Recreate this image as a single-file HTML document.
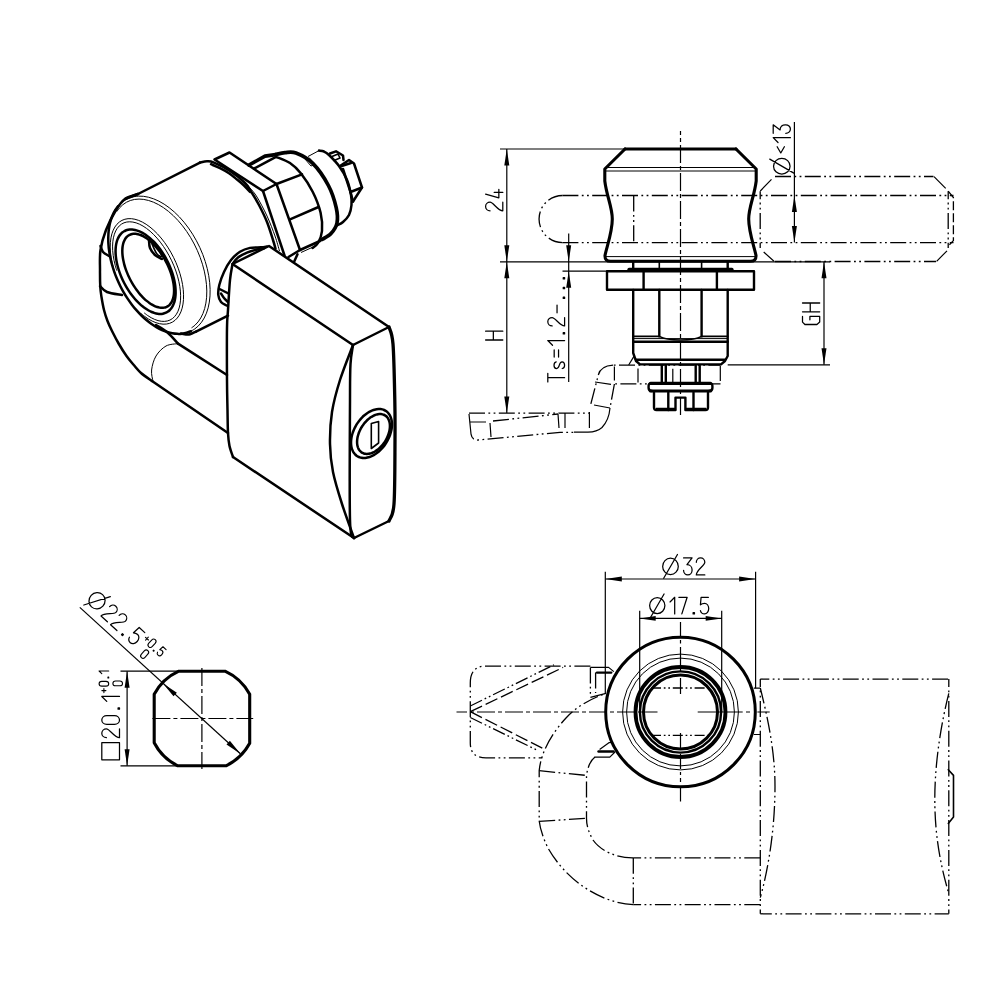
<!DOCTYPE html>
<html><head><meta charset="utf-8"><title>drawing</title>
<style>
html,body{margin:0;padding:0;background:#fff;}
body{width:1000px;height:1000px;overflow:hidden;font-family:"Liberation Sans",sans-serif;}
svg{display:block;}
.k{fill:none;stroke:#000;stroke-width:2.4;stroke-linecap:round;stroke-linejoin:round;}
.k2{fill:none;stroke:#000;stroke-width:3.1;stroke-linecap:round;stroke-linejoin:round;}
.i{fill:none;stroke:#000;stroke-width:2.5;stroke-linecap:round;stroke-linejoin:round;}
.i2{fill:none;stroke:#000;stroke-width:3.3;stroke-linecap:round;stroke-linejoin:round;}
.i3{fill:none;stroke:#000;stroke-width:3.7;stroke-linecap:round;stroke-linejoin:round;}
.m{fill:none;stroke:#000;stroke-width:1.6;stroke-linecap:round;stroke-linejoin:round;}
.n{fill:none;stroke:#000;stroke-width:1.2;stroke-linecap:butt;stroke-linejoin:round;}
.t{fill:none;stroke:#000;stroke-width:1.0;stroke-linecap:butt;stroke-linejoin:round;}
.p{fill:none;stroke:#000;stroke-width:1.3;stroke-dasharray:16 3.4 1.8 3.4 1.8 3.4;}
.ps{fill:none;stroke:#000;stroke-width:1.3;stroke-dasharray:10 2.8 1.7 2.8 1.7 2.8;}
.c{fill:none;stroke:#000;stroke-width:1.2;stroke-dasharray:18 3 4 3;}
.d{fill:none;stroke:#000;stroke-width:1.3;stroke-dasharray:9 3;}
.f{fill:#000;stroke:none;}
.w{fill:#fff;stroke:none;}
</style></head>
<body>
<svg width="1000" height="1000" viewBox="0 0 1000 1000">
<rect x="0" y="0" width="1000" height="1000" fill="#fff"/>
<g id="side">
<path class="c" d="M680.5,131 V416" stroke-dashoffset="14"/>
<path class="k2" d="M625,149 H736"/>
<path class="k2" d="M625,149 L604.8,169 V181 C606.8,197 612.3,207 612.3,219 C612.3,232 607,246 605,255.5 Q604.8,261.3 610.5,261.3 H750.5 Q756.2,261.3 756,255.5 C754,246 748.7,232 748.7,219 C748.7,207 754.2,197 756.2,181 V169 L736,149"/>
<path class="t" d="M606,167.5 H755 M606,171 H755"/>
<path class="t" d="M606,256.6 H755"/>
<path class="k" d="M633.2,262 V269 M727.7,262 V269"/>
<path class="m" d="M659.3,262 V269 M701.6,262 V269"/>
<path class="k2" d="M629,269.2 H732"/>
<path class="k" d="M607,271.3 H754 V289.7 H607 Z M643.6,271.3 V289.7 M716.9,271.3 V289.7"/>
<path class="k" d="M633.2,290 V353 L636,361 L640,364.4 H721 L725,361 L727.7,356 V290"/>
<path class="k" d="M659.3,290 V336.4 M701.6,290 V336.4"/>
<path class="m" d="M633.2,336.4 H659.3 C668,341.3 693,341.3 701.6,336.4 H727.7"/>
<path class="t" d="M633.2,338.6 H727.7"/>
<path class="k" d="M633.2,341.8 H727.7"/>
<path class="k" d="M636,359.8 H725"/>
<path class="n" d="M628.7,365 L634.5,355.4"/>
<path class="k" d="M661.8,365.5 V382 M665.8,365.5 V382 M695.7,365.5 V382 M699.7,365.5 V382"/>
<path class="n" d="M672.8,368.7 V382"/>
<path class="k2" d="M650.5,383.4 H710.5 M650.5,391.0 H710.5"/>
<path class="k" d="M650.5,383.4 Q648.6,383.4 648.6,386 V388 Q648.6,391 652,391 M710.5,383.4 Q712.4,383.4 712.4,386 V388 Q712.4,391 709,391"/>
<path class="k" d="M654,392.5 V407.5 Q654,410 656.5,410 H675.5 V397.6 H685.4 V410 H705.5 Q708,410 708,407.5 V392.5"/>
<path class="k" d="M668.3,392.5 V410 M693.5,392.5 V410"/>
<path class="n" d="M656,408.3 H675 M686,408.3 H706"/>
<path class="n" d="M500,149 H625"/>
<path class="n" d="M500,261.8 H830"/>
<path class="n" d="M562.5,271.2 H607"/>
<path class="n" d="M727.7,364.8 H830"/>
<path class="n" d="M506.8,149 V413"/>
<path class="f" d="M506.80,149.00 L509.30,165.50 L504.30,165.50 Z"/>
<path class="f" d="M506.80,261.80 L504.30,245.30 L509.30,245.30 Z"/>
<path class="f" d="M506.80,261.80 L509.30,278.30 L504.30,278.30 Z"/>
<path class="f" d="M506.80,413.00 L504.30,396.50 L509.30,396.50 Z"/>
<path class="n" d="M568.7,233.5 V382"/>
<path class="f" d="M568.70,261.80 L566.20,245.30 L571.20,245.30 Z"/>
<path class="f" d="M568.70,271.20 L571.20,287.70 L566.20,287.70 Z"/>
<path class="n" d="M794.4,122 V242.5"/>
<path class="f" d="M794.40,195.50 L796.90,212.00 L791.90,212.00 Z"/>
<path class="f" d="M794.40,242.50 L791.90,226.00 L796.90,226.00 Z"/>
<path class="n" d="M824,261.8 V364.8"/>
<path class="f" d="M824.00,261.80 L826.50,278.30 L821.50,278.30 Z"/>
<path class="f" d="M824.00,364.80 L821.50,348.30 L826.50,348.30 Z"/>
<path class="p" d="M953.5,195.5 H562.6" stroke-dashoffset="12.3"/>
<path class="p" d="M953.5,242.6 H562.6" stroke-dashoffset="12.3"/>
<path class="p" d="M562.6,195.5 A23.55,23.55 0 0 0 562.6,242.6" stroke-dashoffset="0.8"/>
<path class="p" d="M633.7,195.5 V242.6"/>
<path class="p" d="M775,176.5 H933.5"/>
<path class="p" d="M775,261.5 H936"/>
<path class="p" d="M760.2,191.2 V248" stroke-dashoffset="8"/>
<path class="p" d="M948.2,191.2 V248" stroke-dashoffset="8"/>
<path class="n" d="M760.3,191 L771.5,179.3 M934,176.7 L945.7,188.4 M763.7,252 L774,261.3 M936.6,261.3 L947,250.8"/>
<path class="d" d="M948.2,191.2 L953.4,197.5 V240.6 L948.2,246"/>
<path class="n" d="M598.3,375 Q600.5,366 613,365.2"/>
<path class="p" d="M613,365.2 H720.5" stroke-dashoffset="-6"/>
<path class="p" d="M614.4,383.9 H720.5" stroke-dashoffset="-6"/>
<path class="n" d="M614.4,366.5 V380.5 M638,368.5 V382.5 M720.3,366 V381"/>
<path class="p" d="M598.3,375 L590.3,406" stroke-dashoffset="16"/>
<path class="p" d="M614.4,384 L610,408"/>
<path class="n" d="M610,408 Q609,420 602,427.5 Q597,432 588,432.2 H574"/>
<path class="n" d="M595,382 L611,384.3 M594,405 L610,408"/>
<path class="n" d="M589.4,412 V428 M565,413 V428 M558,414 L559,428"/>
<path class="p" d="M469,413.2 H590"/>
<path class="n" d="M469,414 L471,434 M470,422 H486 M490,423 L491,437"/>
<path class="p" d="M493,421 L558,414"/>
<path class="p" d="M471,434 Q472,440.5 478,440 L560,432.3 H574" stroke-dashoffset="10"/>
<g transform="translate(502.8,210.8) rotate(-90) scale(17.2,-17.2)" fill="none" stroke="#000" stroke-width="0.0727" stroke-linecap="round" stroke-linejoin="round"><path transform="translate(0.000,0)" d="M0,0.74 A0.25,0.26 0 0 0 0.5,0.74 C0.5,0.55 0,0.3 0,0 H0.5"/><path transform="translate(0.750,0)" d="M0.22,1 L0,0.23 H0.5 M0.32,0.5 V0"/></g>
<g transform="translate(502.8,340.0) rotate(-90) scale(17.2,-17.2)" fill="none" stroke="#000" stroke-width="0.0727" stroke-linecap="round" stroke-linejoin="round"><path transform="translate(0.000,0)" d="M0,0 V1 M0.51,0 V1 M0,0.55 H0.51"/></g>
<g transform="translate(564.6,382.0) rotate(-90) scale(16.8,-16.8)" fill="none" stroke="#000" stroke-width="0.0744" stroke-linecap="round" stroke-linejoin="round"><path transform="translate(0.000,0)" d="M0,1 H0.52 M0.26,1 V0"/><path transform="translate(0.803,0)" d="M0.40,0.5 C0.38,0.59 0.3,0.63 0.2,0.63 C0.08,0.63 0,0.57 0,0.48 C0,0.25 0.40,0.38 0.40,0.15 C0.40,0.05 0.31,0 0.2,0 C0.1,0 0.02,0.05 0,0.14"/><path transform="translate(1.486,0)" d="M0,0.62 H0.42 M0,0.36 H0.42"/><path transform="translate(2.189,0)" d="M0,0.72 L0.28,1 V0"/><path transform="translate(2.752,0)" d="M0.11,0 V0.08 H0.19 V0 Z"/><path transform="translate(3.335,0)" d="M0,0.74 A0.25,0.26 0 0 0 0.5,0.74 C0.5,0.55 0,0.3 0,0 H0.5"/><path transform="translate(4.118,0)" d="M0,0.45 H0.46"/><path transform="translate(4.861,0)" d="M0.11,0 V0.08 H0.19 V0 Z"/><path transform="translate(5.444,0)" d="M0.11,0 V0.08 H0.19 V0 Z"/><path transform="translate(6.027,0)" d="M0.11,0 V0.08 H0.19 V0 Z"/></g>
<g transform="translate(790.4,175.5) rotate(-90) scale(17.2,-17.2)" fill="none" stroke="#000" stroke-width="0.0727" stroke-linecap="round" stroke-linejoin="round"><path transform="translate(0.000,0)" d="M0.08,0.5 A0.46,0.48 0 0 0 1,0.5 A0.46,0.48 0 0 0 0.08,0.5 Z M0.14,-0.2 L0.95,1.2"/><path transform="translate(1.310,0)" d="M0.36,0.77 L0,0.56 L0.36,0.35"/><path transform="translate(1.920,0)" d="M0,0.72 L0.28,1 V0"/><path transform="translate(2.450,0)" d="M0,1 H0.5 L0.2,0.6 C0.4,0.6 0.5,0.45 0.5,0.3 V0.27 A0.25,0.27 0 0 0 0,0.27"/></g>
<g transform="translate(819.7,324.5) rotate(-90) scale(17.2,-17.2)" fill="none" stroke="#000" stroke-width="0.0727" stroke-linecap="round" stroke-linejoin="round"><path transform="translate(0.000,0)" d="M0.47,1 H0.14 L0,0.86 V0.16 L0.14,0 H0.47 V0.57 H0.27"/><path transform="translate(0.740,0)" d="M0,0 V1 M0.51,0 V1 M0,0.55 H0.51"/></g>
</g>
<g id="front">
<path class="c" d="M456.5,712.0 H640" stroke-dashoffset="7.5"/>
<path class="n" d="M640,712.0 H657.5 M697.7,712.0 H742.7 M746,712.0 H750 M757.4,712.0 H769.7 "/>
<path class="n" d="M680.5,622 V637 M680.5,640 V643.5 M680.5,647 V666 M680.5,669 V672 M680.5,678 V694 M680.5,733 V750 M680.5,754 V769 M680.5,772 V775 M680.5,778 V782 M680.5,788 V801.5 "/>
<circle cx="680.5" cy="712.0" r="74.8" fill="none" stroke="#000" stroke-width="3.0"/>
<circle class="t" cx="680.5" cy="712.0" r="57.9"/>
<circle class="t" cx="680.5" cy="712.0" r="53.9"/>
<circle cx="680.5" cy="712.0" r="45" fill="none" stroke="#000" stroke-width="3.8"/>
<circle cx="680.5" cy="712.0" r="40.6" fill="none" stroke="#000" stroke-width="2.4"/>
<circle cx="680.5" cy="712.0" r="37" fill="none" stroke="#000" stroke-width="3.0"/>
<path class="ps" d="M651,688 H710 M651,735.3 H710"/>
<path class="n" d="M605.3,571.7 V694 M755.6,571.7 V688.2"/>
<path class="n" d="M605.3,579 H755.6"/>
<path class="f" d="M605.30,579.00 L621.80,576.50 L621.80,581.50 Z"/>
<path class="f" d="M755.60,579.00 L739.10,581.50 L739.10,576.50 Z"/>
<path class="n" d="M639.7,610.7 V712 M721.7,610.7 V712"/>
<path class="n" d="M639.7,618.4 H721.7"/>
<path class="f" d="M639.70,618.40 L655.70,616.10 L655.70,620.70 Z"/>
<path class="f" d="M721.70,618.40 L705.70,620.70 L705.70,616.10 Z"/>
<g transform="translate(661.3,574.9) rotate(0) scale(17.0,-17.0)" fill="none" stroke="#000" stroke-width="0.0735" stroke-linecap="round" stroke-linejoin="round"><path transform="translate(0.000,0)" d="M0.08,0.5 A0.46,0.48 0 0 0 1,0.5 A0.46,0.48 0 0 0 0.08,0.5 Z M0.14,-0.2 L0.95,1.2"/><path transform="translate(1.310,0)" d="M0,1 H0.5 L0.2,0.6 C0.4,0.6 0.5,0.45 0.5,0.3 V0.27 A0.25,0.27 0 0 0 0,0.27"/><path transform="translate(2.060,0)" d="M0,0.74 A0.25,0.26 0 0 0 0.5,0.74 C0.5,0.55 0,0.3 0,0 H0.5"/></g>
<g transform="translate(648.3,613.9) rotate(0) scale(16.6,-16.6)" fill="none" stroke="#000" stroke-width="0.0753" stroke-linecap="round" stroke-linejoin="round"><path transform="translate(0.000,0)" d="M0.08,0.5 A0.46,0.48 0 0 0 1,0.5 A0.46,0.48 0 0 0 0.08,0.5 Z M0.14,-0.2 L0.95,1.2"/><path transform="translate(1.310,0)" d="M0,0.72 L0.28,1 V0"/><path transform="translate(1.840,0)" d="M0,1 H0.5 L0.18,0"/><path transform="translate(2.590,0)" d="M0.11,0 V0.08 H0.19 V0 Z"/><path transform="translate(3.140,0)" d="M0.48,1 H0.04 L0,0.55 C0.08,0.62 0.17,0.64 0.25,0.64 A0.25,0.32 0 0 0 0.25,0 C0.12,0 0.03,0.08 0,0.2"/></g>
<path class="n" d="M753.8,688.2 H760.3 M753.8,734.5 H760.3"/>
<path class="p" d="M760.3,679.1 H948.8" stroke-dashoffset="7"/>
<path class="p" d="M760.3,913.8 H948.8" stroke-dashoffset="4.5"/>
<path class="p" d="M760.3,679.1 V913.8" stroke-dashoffset="8"/>
<path class="p" d="M948.8,679.1 V913.8" stroke-dashoffset="8"/>
<path class="p" d="M760.3,688 C767,715 775,750 775,786 C775,830 768,870 760.3,897.6"/>
<path class="p" d="M948.8,693.4 C942,720 934.8,760 934.8,799 C934.8,840 942,870 948.8,893.7"/>
<path class="m" d="M948.3,769.7 L953.5,775.4 V817 L948.3,823.5"/>
<path class="p" d="M760.3,857.8 H633.3 M760.3,904.6 H633.3"/>
<path class="p" d="M633.3,857.8 V904.6"/>
<path class="p" d="M633.3,904.6 C600,903 566,880 548,848 C543,838 540,828 539.2,821 V770.5 C541,752 552,733 566,718 C576,707 590,699 606,693.4"/>
<path class="p" d="M633.3,857.8 C615,858 600,850 593,840 C589,833 586.5,826 586.5,818.3 V775.4 C588,766 590.5,760.5 595,757"/>
<path class="p" d="M539.2,770.7 L586.5,775.4 M539.2,821.4 L586.5,818.3"/>
<path class="p" d="M590.4,666.1 H484 Q470.3,667 470.3,683 V743 Q470.3,757.9 486,757.9 H542.3"/>
<path d="M470.3,711.7 L563.1,667.4 M470.3,711.7 L542.3,748.1" fill="none" stroke="#000" stroke-width="1.3" stroke-dasharray="13 4"/>
<path d="M470.3,706 L554,664.8 M470.3,717.5 L538.4,750.8" fill="none" stroke="#000" stroke-width="1.3" stroke-dasharray="13 3 1.7 3 1.7 3"/>
<path class="n" d="M590.4,667.4 H608.6 L613.8,671.6"/>
<path class="k" d="M597,672.6 H611.2"/>
<path class="p" d="M590.4,667.4 V697 M595.6,672.6 V693"/>
<path class="n" d="M590.4,697.3 L606,693.4"/>
<path class="k" d="M598.5,751.5 H613.5"/>
<path class="n" d="M599.6,749.5 L608.9,742.7 L612,742.5"/>
<path class="n" d="M594.5,757.1 H609.8 L615,752"/>
</g>
<g id="cut">
<path class="k2" d="M178.8,671.2 H225 A52.9,52.9 0 0 1 249.7,694.3 V743.3 A52.9,52.9 0 0 1 226,765.8 H177.8 A52.9,52.9 0 0 1 154.2,742.7 V694.3 A52.9,52.9 0 0 1 178.8,671.2 Z"/>
<path class="c" d="M152.4,718.5 H253.2"/>
<path class="c" d="M201.9,667.9 V769.1"/>
<path class="n" d="M120.5,671.2 H178.8 M120.5,765.8 H177.8"/>
<path class="n" d="M127.1,671.2 V765.8"/>
<path class="f" d="M127.10,671.20 L129.60,687.70 L124.60,687.70 Z"/>
<path class="f" d="M127.10,765.80 L124.60,749.30 L129.60,749.30 Z"/>
<path class="n" d="M79.8,607.4 L240.4,753.7"/>
<path class="f" d="M240.40,753.70 L226.52,744.44 L229.89,740.74 Z"/>
<path class="f" d="M163.00,683.40 L176.88,692.66 L173.51,696.36 Z"/>
<g transform="translate(119.5,759.8) rotate(-90) scale(17.7,-17.7)" fill="none" stroke="#000" stroke-width="0.0706" stroke-linecap="round" stroke-linejoin="round"><path transform="translate(0.000,0)" d="M0,0 H0.97 V1 H0 Z"/><path transform="translate(1.250,0)" d="M0,0.74 A0.25,0.26 0 0 0 0.5,0.74 C0.5,0.55 0,0.3 0,0 H0.5"/><path transform="translate(2.000,0)" d="M0,0.28 V0.72 A0.25,0.28 0 0 0 0.5,0.72 V0.28 A0.25,0.28 0 0 0 0,0.28 Z"/><path transform="translate(2.750,0)" d="M0.11,0 V0.08 H0.19 V0 Z"/><path transform="translate(3.300,0)" d="M0,0.72 L0.28,1 V0"/></g>
<g transform="translate(108.7,692.6) rotate(-90) scale(9.6,-9.6)" fill="none" stroke="#000" stroke-width="0.1146" stroke-linecap="round" stroke-linejoin="round"><path transform="translate(0.000,0)" d="M0,0.5 H0.42 M0.21,0.29 V0.71"/><path transform="translate(0.670,0)" d="M0,0.28 V0.72 A0.25,0.28 0 0 0 0.5,0.72 V0.28 A0.25,0.28 0 0 0 0,0.28 Z"/><path transform="translate(1.420,0)" d="M0.11,0 V0.08 H0.19 V0 Z"/><path transform="translate(1.970,0)" d="M0,0.72 L0.28,1 V0"/></g>
<g transform="translate(122.5,685.8) rotate(-90) scale(9.6,-9.6)" fill="none" stroke="#000" stroke-width="0.1146" stroke-linecap="round" stroke-linejoin="round"><path transform="translate(0.000,0)" d="M0,0.28 V0.72 A0.25,0.28 0 0 0 0.5,0.72 V0.28 A0.25,0.28 0 0 0 0,0.28 Z"/></g>
<g transform="translate(84.38,600.86) rotate(42.33223371955368) scale(17.2,-17.2)" fill="none" stroke="#000" stroke-width="0.0727" stroke-linecap="round" stroke-linejoin="round"><path transform="translate(0.000,0)" d="M0.08,0.5 A0.46,0.48 0 0 0 1,0.5 A0.46,0.48 0 0 0 0.08,0.5 Z M0.14,-0.2 L0.95,1.2"/><path transform="translate(1.310,0)" d="M0,0.74 A0.25,0.26 0 0 0 0.5,0.74 C0.5,0.55 0,0.3 0,0 H0.5"/><path transform="translate(2.060,0)" d="M0,0.74 A0.25,0.26 0 0 0 0.5,0.74 C0.5,0.55 0,0.3 0,0 H0.5"/><path transform="translate(2.810,0)" d="M0.11,0 V0.08 H0.19 V0 Z"/><path transform="translate(3.360,0)" d="M0.48,1 H0.04 L0,0.55 C0.08,0.62 0.17,0.64 0.25,0.64 A0.25,0.32 0 0 0 0.25,0 C0.12,0 0.03,0.08 0,0.2"/></g>
<g transform="translate(142.24,640.85) rotate(42.33223371955368) scale(9.6,-9.6)" fill="none" stroke="#000" stroke-width="0.1146" stroke-linecap="round" stroke-linejoin="round"><path transform="translate(0.000,0)" d="M0,0.5 H0.42 M0.21,0.29 V0.71"/><path transform="translate(0.670,0)" d="M0,0.28 V0.72 A0.25,0.28 0 0 0 0.5,0.72 V0.28 A0.25,0.28 0 0 0 0,0.28 Z"/><path transform="translate(1.420,0)" d="M0.11,0 V0.08 H0.19 V0 Z"/><path transform="translate(1.970,0)" d="M0.48,1 H0.04 L0,0.55 C0.08,0.62 0.17,0.64 0.25,0.64 A0.25,0.32 0 0 0 0.25,0 C0.12,0 0.03,0.08 0,0.2"/></g>
<g transform="translate(139.62,656.05) rotate(42.33223371955368) scale(9.6,-9.6)" fill="none" stroke="#000" stroke-width="0.1146" stroke-linecap="round" stroke-linejoin="round"><path transform="translate(0.000,0)" d="M0,0.28 V0.72 A0.25,0.28 0 0 0 0.5,0.72 V0.28 A0.25,0.28 0 0 0 0,0.28 Z"/></g>
</g>
<g id="iso">
<path class="i" d="M190.92,331.19 C190.21,331.46 188.12,332.39 186.66,332.81 C185.19,333.22 183.66,333.52 182.10,333.70 C180.55,333.88 178.94,333.93 177.31,333.87 C175.68,333.80 174.01,333.62 172.33,333.31 C170.64,333.00 168.93,332.57 167.21,332.03 C165.48,331.48 163.74,330.82 162.00,330.04 C160.26,329.26 158.50,328.36 156.76,327.36 C155.02,326.36 153.28,325.24 151.55,324.02 C149.83,322.81 148.11,321.48 146.42,320.06 C144.73,318.65 143.06,317.12 141.43,315.52 C139.79,313.92 138.18,312.22 136.62,310.45 C135.06,308.67 133.53,306.81 132.05,304.89 C130.58,302.97 129.14,300.96 127.77,298.91 C126.40,296.86 125.07,294.74 123.82,292.57 C122.57,290.41 121.37,288.19 120.24,285.95 C119.12,283.70 118.06,281.41 117.08,279.10 C116.10,276.79 115.19,274.45 114.36,272.10 C113.53,269.75 112.78,267.38 112.12,265.03 C111.45,262.67 110.87,260.30 110.37,257.95 C109.87,255.61 109.46,253.26 109.14,250.95 C108.82,248.65 108.58,246.35 108.44,244.10 C108.29,241.86 108.24,239.64 108.27,237.47 C108.31,235.31 108.43,233.19 108.64,231.14 C108.86,229.08 109.16,227.08 109.55,225.15 C109.94,223.23 110.42,221.37 110.98,219.59 C111.55,217.82 112.20,216.12 112.92,214.51 C113.65,212.91 114.47,211.39 115.35,209.97 C116.24,208.55 117.77,206.66 118.25,206.00"/>
<path class="t" d="M118.25,206.00 C118.80,205.45 120.41,203.66 121.59,202.65 C122.76,201.65 124.02,200.75 125.32,199.97 C126.63,199.19 128.00,198.52 129.42,197.97 C130.84,197.43 132.31,197.00 133.83,196.69 C135.35,196.38 136.92,196.19 138.51,196.13 C140.11,196.07 141.75,196.13 143.41,196.30 C145.08,196.48 146.78,196.79 148.48,197.21 C150.19,197.63 151.93,198.18 153.67,198.83 C155.41,199.49 157.16,200.27 158.91,201.16 C160.66,202.05 162.42,203.06 164.16,204.17 C165.90,205.28 167.64,206.50 169.35,207.82 C171.06,209.14 172.77,210.57 174.43,212.08 C176.10,213.60 177.75,215.21 179.36,216.90 C180.96,218.60 182.54,220.38 184.07,222.24 C185.59,224.09 187.08,226.03 188.51,228.03 C189.94,230.02 191.33,232.09 192.64,234.21 C193.96,236.32 195.23,238.50 196.42,240.72 C197.62,242.93 198.75,245.20 199.80,247.48 C200.86,249.77 201.85,252.10 202.76,254.44 C203.66,256.77 204.50,259.14 205.24,261.50 C205.99,263.86 206.66,266.24 207.24,268.60 C207.82,270.96 208.32,273.33 208.73,275.67 C209.14,278.00 209.46,280.33 209.69,282.62 C209.92,284.90 210.06,287.17 210.12,289.38 C210.17,291.59 210.13,293.77 210.00,295.88 C209.87,298.00 209.65,300.07 209.34,302.06 C209.04,304.05 208.64,305.99 208.16,307.84 C207.67,309.69 207.10,311.48 206.45,313.17 C205.79,314.86 205.05,316.47 204.24,317.98 C203.42,319.50 202.52,320.92 201.55,322.24 C200.57,323.55 199.52,324.77 198.41,325.88 C197.29,326.99 196.10,327.99 194.85,328.88 C193.60,329.76 191.57,330.81 190.92,331.19"/>
<path class="t" d="M116.82,211.55 C117.29,210.93 118.61,208.97 119.61,207.83 C120.61,206.69 121.68,205.65 122.82,204.73 C123.95,203.80 125.15,202.98 126.40,202.28 C127.66,201.58 128.97,200.98 130.33,200.51 C131.69,200.04 133.11,199.68 134.56,199.43 C136.02,199.19 137.52,199.07 139.05,199.07 C140.58,199.07 142.16,199.18 143.75,199.41 C145.34,199.65 146.97,200.00 148.60,200.47 C150.24,200.94 151.90,201.52 153.56,202.22 C155.22,202.92 156.90,203.73 158.57,204.65 C160.24,205.57 161.92,206.60 163.58,207.73 C165.24,208.86 166.90,210.10 168.53,211.43 C170.16,212.76 171.79,214.20 173.37,215.71 C174.96,217.23 176.53,218.84 178.06,220.53 C179.58,222.21 181.08,223.99 182.53,225.82 C183.98,227.66 185.39,229.57 186.74,231.54 C188.09,233.51 189.40,235.55 190.65,237.63 C191.89,239.70 193.09,241.84 194.21,244.01 C195.34,246.17 196.40,248.39 197.39,250.62 C198.38,252.85 199.30,255.12 200.15,257.39 C200.99,259.66 201.77,261.96 202.46,264.25 C203.15,266.54 203.77,268.84 204.30,271.12 C204.83,273.40 205.28,275.68 205.64,277.92 C206.01,280.17 206.29,282.41 206.48,284.60 C206.68,286.79 206.78,288.95 206.80,291.06 C206.82,293.17 206.76,295.25 206.61,297.26 C206.45,299.26 206.21,301.22 205.89,303.10 C205.57,304.99 205.16,306.81 204.67,308.55 C204.17,310.29 203.60,311.96 202.94,313.53 C202.29,315.11 201.55,316.60 200.74,318.00 C199.93,319.39 199.04,320.70 198.09,321.90 C197.13,323.09 196.10,324.20 195.01,325.19 C193.92,326.18 192.11,327.40 191.53,327.84"/>
<path class="t" d="M115.25,273.58 C114.96,272.67 114.02,269.92 113.50,268.09 C112.97,266.27 112.51,264.44 112.10,262.64 C111.70,260.84 111.36,259.04 111.09,257.28 C110.81,255.52 110.60,253.77 110.46,252.07 C110.31,250.37 110.23,248.70 110.22,247.07 C110.21,245.45 110.26,243.87 110.38,242.34 C110.50,240.81 110.69,239.33 110.94,237.92 C111.19,236.51 111.50,235.15 111.88,233.86 C112.26,232.58 112.70,231.35 113.21,230.21 C113.71,229.07 114.27,227.99 114.89,227.00 C115.51,226.01 116.20,225.10 116.93,224.28 C117.66,223.45 118.45,222.71 119.29,222.06 C120.12,221.41 121.01,220.85 121.94,220.38 C122.87,219.91 123.85,219.53 124.87,219.25 C125.89,218.96 126.95,218.77 128.04,218.68 C129.12,218.59 130.25,218.59 131.41,218.68 C132.56,218.78 133.74,218.97 134.94,219.26 C136.14,219.54 137.37,219.92 138.61,220.39 C139.85,220.87 141.10,221.43 142.36,222.08 C143.62,222.74 144.90,223.48 146.17,224.31 C147.44,225.13 148.72,226.05 149.98,227.04 C151.25,228.03 152.51,229.11 153.76,230.25 C155.01,231.40 156.25,232.62 157.47,233.91 C158.68,235.19 159.89,236.56 161.06,237.97 C162.23,239.38 163.38,240.87 164.50,242.39 C165.61,243.92 166.70,245.51 167.74,247.13 C168.79,248.75 169.80,250.43 170.77,252.13 C171.73,253.83 172.66,255.58 173.53,257.34 C174.40,259.10 175.23,260.90 176.01,262.70 C176.78,264.50 177.50,266.33 178.17,268.16 C178.83,269.98 179.44,271.82 179.99,273.65 C180.54,275.47 181.03,277.30 181.46,279.11 C181.88,280.92 182.25,282.72 182.55,284.49 C182.85,286.26 183.08,288.02 183.25,289.73 C183.42,291.45 183.53,293.14 183.56,294.78 C183.60,296.42 183.57,298.02 183.48,299.57 C183.39,301.11 183.23,302.62 183.00,304.05 C182.78,305.49 182.48,306.87 182.13,308.18 C181.78,309.49 181.36,310.75 180.88,311.92 C180.40,313.09 179.86,314.19 179.26,315.21 C178.66,316.23 178.00,317.18 177.29,318.03 C176.58,318.89 175.81,319.67 174.99,320.35 C174.18,321.04 173.31,321.63 172.39,322.14 C171.48,322.64 170.52,323.06 169.52,323.38 C168.52,323.70 167.47,323.92 166.39,324.05 C165.32,324.19 164.20,324.22 163.06,324.16 C161.92,324.10 160.75,323.95 159.55,323.70 C158.36,323.45 157.14,323.10 155.91,322.67 C154.68,322.23 153.42,321.70 152.17,321.09 C150.91,320.47 149.64,319.76 148.37,318.96 C147.10,318.17 145.82,317.29 144.55,316.33 C143.29,315.37 141.40,313.73 140.77,313.21"/>
<path class="t" d="M116.79,270.64 C116.54,269.79 115.71,267.20 115.25,265.49 C114.80,263.79 114.39,262.08 114.05,260.41 C113.71,258.74 113.42,257.07 113.20,255.45 C112.97,253.82 112.81,252.21 112.70,250.66 C112.60,249.10 112.55,247.57 112.57,246.09 C112.59,244.61 112.67,243.17 112.80,241.80 C112.94,240.42 113.14,239.09 113.40,237.83 C113.66,236.56 113.98,235.35 114.36,234.22 C114.73,233.08 115.17,232.01 115.66,231.01 C116.15,230.01 116.69,229.09 117.29,228.24 C117.89,227.39 118.54,226.62 119.24,225.93 C119.94,225.25 120.69,224.64 121.48,224.12 C122.27,223.60 123.11,223.16 123.99,222.81 C124.87,222.47 125.79,222.21 126.75,222.03 C127.70,221.86 128.69,221.78 129.71,221.79 C130.73,221.79 131.79,221.89 132.86,222.07 C133.94,222.26 135.04,222.53 136.16,222.89 C137.28,223.25 138.42,223.70 139.57,224.23 C140.72,224.77 141.88,225.39 143.05,226.09 C144.22,226.78 145.40,227.57 146.57,228.43 C147.75,229.28 148.93,230.22 150.10,231.23 C151.27,232.24 152.43,233.32 153.58,234.47 C154.73,235.61 155.88,236.83 156.99,238.10 C158.11,239.38 159.22,240.72 160.29,242.10 C161.37,243.49 162.42,244.93 163.44,246.41 C164.46,247.90 165.46,249.43 166.41,251.00 C167.37,252.56 168.29,254.17 169.17,255.80 C170.05,257.43 170.89,259.10 171.69,260.78 C172.48,262.46 173.23,264.16 173.93,265.87 C174.63,267.58 175.29,269.30 175.88,271.02 C176.48,272.74 177.03,274.47 177.52,276.18 C178.01,277.89 178.45,279.60 178.83,281.29 C179.21,282.98 179.53,284.65 179.79,286.30 C180.05,287.94 180.25,289.56 180.39,291.14 C180.53,292.72 180.61,294.28 180.63,295.78 C180.65,297.28 180.61,298.75 180.50,300.16 C180.40,301.57 180.24,302.93 180.01,304.23 C179.79,305.53 179.51,306.78 179.16,307.95 C178.82,309.13 178.42,310.24 177.97,311.28 C177.51,312.32 176.99,313.29 176.43,314.18 C175.86,315.08 175.24,315.90 174.57,316.63 C173.90,317.37 173.18,318.02 172.42,318.59 C171.65,319.16 170.84,319.65 169.98,320.05 C169.13,320.45 168.23,320.77 167.30,320.99 C166.36,321.21 165.39,321.35 164.39,321.40 C163.39,321.44 162.35,321.40 161.29,321.27 C160.23,321.14 159.14,320.91 158.03,320.61 C156.93,320.30 155.80,319.90 154.65,319.42 C153.51,318.94 152.35,318.37 151.19,317.72 C150.02,317.07 148.85,316.33 147.67,315.52 C146.50,314.71 144.73,313.29 144.15,312.85"/>
<path class="i" d="M124.66,230.96 C125.05,230.81 126.18,230.28 126.99,230.04 C127.80,229.81 128.64,229.65 129.51,229.56 C130.38,229.48 131.28,229.47 132.20,229.53 C133.12,229.59 134.07,229.73 135.04,229.94 C136.00,230.16 136.99,230.44 137.98,230.80 C138.98,231.16 139.99,231.59 141.01,232.09 C142.03,232.59 143.06,233.16 144.08,233.80 C145.11,234.44 146.15,235.14 147.18,235.91 C148.20,236.68 149.23,237.51 150.25,238.40 C151.27,239.29 152.28,240.24 153.28,241.25 C154.27,242.25 155.26,243.31 156.22,244.41 C157.18,245.52 158.13,246.67 159.05,247.87 C159.97,249.06 160.87,250.31 161.74,251.58 C162.61,252.85 163.45,254.16 164.26,255.50 C165.06,256.84 165.84,258.21 166.58,259.59 C167.31,260.98 168.02,262.39 168.68,263.81 C169.33,265.24 169.95,266.68 170.53,268.12 C171.10,269.56 171.63,271.02 172.12,272.46 C172.60,273.91 173.04,275.36 173.42,276.80 C173.81,278.24 174.15,279.67 174.44,281.08 C174.72,282.49 174.96,283.89 175.14,285.26 C175.33,286.63 175.46,287.99 175.54,289.30 C175.62,290.62 175.64,291.91 175.62,293.15 C175.59,294.40 175.51,295.61 175.37,296.78 C175.24,297.94 175.05,299.07 174.82,300.13 C174.58,301.20 174.29,302.23 173.95,303.19 C173.61,304.15 173.22,305.07 172.78,305.91 C172.34,306.76 171.86,307.55 171.33,308.28 C170.80,309.00 170.22,309.66 169.60,310.25 C168.98,310.84 168.32,311.36 167.62,311.81 C166.92,312.26 166.17,312.64 165.40,312.95 C164.63,313.26 163.81,313.49 162.97,313.65 C162.13,313.81 161.26,313.90 160.36,313.91 C159.47,313.92 158.54,313.86 157.60,313.72 C156.65,313.58 155.68,313.37 154.70,313.08 C153.72,312.80 152.72,312.44 151.71,312.01 C150.71,311.58 149.68,311.08 148.66,310.51 C147.63,309.94 146.60,309.30 145.57,308.59 C144.54,307.89 143.51,307.12 142.48,306.29 C141.46,305.46 140.44,304.56 139.43,303.62 C138.42,302.67 137.42,301.66 136.44,300.61 C135.46,299.55 134.49,298.44 133.55,297.29 C132.61,296.14 131.68,294.94 130.78,293.71 C129.89,292.47 129.02,291.19 128.18,289.89 C127.34,288.58 126.53,287.24 125.76,285.87 C124.98,284.51 124.24,283.11 123.54,281.71 C122.85,280.30 122.18,278.87 121.57,277.44 C120.95,276.01 120.37,274.56 119.84,273.11 C119.31,271.66 118.83,270.21 118.39,268.76 C117.96,267.32 117.57,265.88 117.23,264.45 C116.89,263.03 116.61,261.61 116.37,260.21 C116.13,258.82 115.95,257.44 115.82,256.10 C115.69,254.75 115.61,253.43 115.58,252.15 C115.56,250.87 115.59,249.61 115.67,248.40 C115.75,247.20 115.88,246.03 116.07,244.91 C116.25,243.79 116.49,242.71 116.78,241.70 C117.07,240.68 117.41,239.71 117.80,238.80 C118.19,237.90 118.63,237.04 119.11,236.26 C119.60,235.47 120.13,234.75 120.70,234.09 C121.28,233.43 121.90,232.84 122.56,232.32 C123.22,231.80 124.31,231.19 124.66,230.96"/>
<path class="i" d="M129.31,234.97 C129.63,234.85 130.56,234.40 131.23,234.21 C131.90,234.01 132.60,233.89 133.33,233.82 C134.06,233.76 134.81,233.77 135.59,233.83 C136.36,233.90 137.16,234.04 137.98,234.24 C138.79,234.44 139.63,234.70 140.48,235.03 C141.32,235.35 142.19,235.75 143.06,236.20 C143.93,236.65 144.81,237.16 145.69,237.73 C146.57,238.30 147.47,238.94 148.35,239.62 C149.24,240.30 150.13,241.05 151.01,241.84 C151.89,242.63 152.78,243.47 153.64,244.36 C154.51,245.25 155.37,246.19 156.22,247.16 C157.06,248.14 157.89,249.17 158.70,250.22 C159.51,251.27 160.31,252.37 161.08,253.49 C161.85,254.61 162.60,255.77 163.32,256.95 C164.04,258.13 164.74,259.33 165.40,260.55 C166.06,261.77 166.70,263.02 167.30,264.26 C167.90,265.51 168.46,266.78 168.99,268.05 C169.52,269.31 170.01,270.59 170.47,271.86 C170.92,273.12 171.33,274.40 171.70,275.66 C172.08,276.91 172.41,278.17 172.69,279.40 C172.98,280.64 173.22,281.86 173.42,283.06 C173.62,284.26 173.78,285.44 173.88,286.59 C173.99,287.73 174.06,288.86 174.07,289.95 C174.09,291.03 174.06,292.09 173.99,293.10 C173.92,294.12 173.80,295.09 173.63,296.02 C173.47,296.95 173.26,297.84 173.01,298.68 C172.75,299.51 172.45,300.30 172.12,301.03 C171.78,301.76 171.39,302.45 170.97,303.07 C170.55,303.69 170.09,304.26 169.59,304.76 C169.09,305.27 168.55,305.72 167.97,306.10 C167.40,306.48 166.79,306.80 166.15,307.06 C165.51,307.31 164.84,307.51 164.14,307.63 C163.44,307.76 162.71,307.82 161.96,307.82 C161.21,307.82 160.43,307.75 159.63,307.61 C158.84,307.48 158.02,307.28 157.19,307.02 C156.35,306.75 155.50,306.42 154.64,306.03 C153.78,305.65 152.91,305.19 152.03,304.68 C151.15,304.17 150.27,303.59 149.38,302.97 C148.49,302.34 147.60,301.65 146.71,300.91 C145.83,300.17 144.94,299.38 144.07,298.54 C143.19,297.70 142.32,296.80 141.46,295.87 C140.60,294.94 139.76,293.95 138.93,292.94 C138.10,291.92 137.28,290.86 136.49,289.77 C135.70,288.68 134.93,287.55 134.18,286.40 C133.44,285.25 132.71,284.06 132.02,282.86 C131.33,281.67 130.66,280.44 130.03,279.20 C129.40,277.97 128.79,276.71 128.23,275.45 C127.67,274.19 127.13,272.92 126.64,271.65 C126.15,270.38 125.70,269.10 125.28,267.84 C124.87,266.57 124.50,265.31 124.17,264.06 C123.84,262.81 123.55,261.57 123.31,260.35 C123.07,259.14 122.87,257.93 122.71,256.76 C122.56,255.58 122.45,254.43 122.39,253.31 C122.32,252.19 122.30,251.10 122.33,250.05 C122.36,249.00 122.44,247.98 122.55,247.01 C122.67,246.03 122.84,245.10 123.05,244.22 C123.26,243.33 123.51,242.49 123.81,241.71 C124.10,240.92 124.44,240.19 124.83,239.51 C125.21,238.83 125.63,238.20 126.09,237.64 C126.55,237.08 127.06,236.57 127.59,236.12 C128.13,235.68 129.02,235.17 129.31,234.97"/>
<path class="i" d="M149.00,240.00 C149.17,241.33 149.00,245.50 150.00,248.00 C151.00,250.50 153.00,253.17 155.00,255.00 C157.00,256.83 160.83,258.33 162.00,259.00"/>
<path class="m" d="M152.00,244.00 C152.83,244.50 155.33,245.00 157.00,247.00 C158.67,249.00 162.00,254.83 162.00,256.00 C162.00,257.17 158.67,256.00 157.00,254.00 C155.33,252.00 152.83,245.67 152.00,244.00"/>
<path class="i" d="M125.00,199.00 C127.17,198.17 135.83,194.83 138.00,194.00"/>
<path class="i" d="M138.00,194.00 L200.00,162.60"/>
<path class="i" d="M200.00,162.60 C201.17,162.38 204.67,161.30 207.00,161.30 C209.33,161.30 210.17,160.98 214.00,162.60 C217.83,164.22 224.83,167.60 230.00,171.00 C235.17,174.40 241.33,179.33 245.00,183.00 C248.67,186.67 249.67,189.33 252.00,193.00 C254.33,196.67 256.50,200.17 259.00,205.00 C261.50,209.83 264.67,216.17 267.00,222.00 C269.33,227.83 271.58,235.58 273.00,240.00 C274.42,244.42 275.08,247.08 275.50,248.50"/>
<path class="i" d="M211.00,164.20 C212.50,164.87 217.00,166.68 220.00,168.20 C223.00,169.72 226.17,171.42 229.00,173.30 C231.83,175.18 234.50,177.47 237.00,179.50 C239.50,181.53 241.83,183.42 244.00,185.50 C246.17,187.58 249.00,190.92 250.00,192.00"/>
<path class="t" d="M243.00,180.50 C244.17,181.75 247.67,185.25 250.00,188.00 C252.33,190.75 254.17,192.33 257.00,197.00 C259.83,201.67 264.00,209.50 267.00,216.00 C270.00,222.50 272.92,230.17 275.00,236.00 C277.08,241.83 278.75,248.50 279.50,251.00"/>
<path class="i" d="M138.00,194.00 C135.83,194.83 128.67,196.33 125.00,199.00 C121.33,201.67 119.17,204.83 116.00,210.00 C112.83,215.17 108.58,223.33 106.00,230.00 C103.42,236.67 101.50,243.33 100.50,250.00 C99.50,256.67 100.03,263.83 100.00,270.00 C99.97,276.17 100.05,282.50 100.30,287.00 C100.55,291.50 100.88,293.17 101.50,297.00 C102.12,300.83 103.00,306.00 104.00,310.00 C105.00,314.00 106.17,317.50 107.50,321.00 C108.83,324.50 110.12,327.21 112.00,331.00 C113.88,334.79 116.33,339.58 118.75,343.75 C121.17,347.92 124.00,352.46 126.50,356.00 C129.00,359.54 131.33,362.17 133.75,365.00 C136.17,367.83 137.96,370.33 141.00,373.00 C144.04,375.67 150.17,379.67 152.00,381.00"/>
<path class="i" d="M152.00,381.00 L228.00,433.00"/>
<path class="i" d="M100.50,246.00 C100.92,247.00 101.58,250.33 103.00,252.00 C104.42,253.67 108.00,255.33 109.00,256.00"/>
<path class="i" d="M100.00,286.00 C101.17,287.00 103.33,290.50 107.00,292.00 C110.67,293.50 119.50,294.50 122.00,295.00"/>
<path class="i" d="M156.00,325.00 C157.92,326.25 163.83,329.40 167.50,332.50 C171.17,335.60 176.25,341.75 178.00,343.60"/>
<path class="i" d="M178.00,343.60 L227.00,375.00"/>
<path class="t" d="M178.00,343.60 C176.00,344.00 169.67,343.93 166.00,346.00 C162.33,348.07 158.40,352.00 156.00,356.00 C153.60,360.00 152.10,365.73 151.60,370.00 C151.10,374.27 152.77,379.67 153.00,381.60"/>
<path class="i" d="M181.00,333.60 C181.83,333.73 184.50,334.30 186.00,334.40 C187.50,334.50 188.33,334.67 190.00,334.20 C191.67,333.73 195.00,332.03 196.00,331.60"/>
<path class="i" d="M196.00,331.60 L228.00,315.60"/>
<path class="i" d="M214.50,159.50 L229.50,152.50 L276.50,184.00 L263.00,191.00 Z"/>
<path class="i" d="M263.00,191.00 L284.50,255.50"/>
<path class="i" d="M276.50,184.00 L300.00,250.00"/>
<path class="i" d="M300.00,250.00 L288.50,257.00"/>
<path class="i" d="M276.50,184.00 L302.00,174.30"/>
<path class="i" d="M290.00,219.30 L318.50,207.00"/>
<path class="i" d="M300.00,250.00 L320.00,241.00"/>
<path class="t" d="M301.00,252.50 L314.00,246.60"/>
<path class="i3" d="M249.00,165.00 L265.00,156.20 L275.50,154.60"/>
<path class="i" d="M254.00,168.60 L276.00,156.80"/>
<path class="i" d="M276.00,156.80 C278.33,157.83 285.83,160.22 290.00,163.00 C294.17,165.78 297.20,168.67 301.00,173.50 C304.80,178.33 309.53,185.45 312.80,192.00 C316.07,198.55 319.07,206.30 320.60,212.80 C322.13,219.30 322.43,225.97 322.00,231.00 C321.57,236.03 319.58,240.17 318.00,243.00 C316.42,245.83 313.42,247.17 312.50,248.00"/>
<path class="i3" d="M275.50,154.60 C277.08,154.27 281.58,152.87 285.00,152.60 C288.42,152.33 291.37,151.20 296.00,153.00 C300.63,154.80 307.40,157.98 312.80,163.40 C318.20,168.82 324.50,178.13 328.40,185.50 C332.30,192.87 334.77,201.35 336.20,207.60 C337.63,213.85 337.87,218.67 337.00,223.00 C336.13,227.33 333.50,230.85 331.00,233.60 C328.50,236.35 323.50,238.52 322.00,239.50"/>
<path class="t" d="M308.00,156.50 L319.00,150.60"/>
<path class="i" d="M319.00,150.60 C319.83,150.75 322.33,150.77 324.00,151.50 C325.67,152.23 326.50,152.58 329.00,155.00 C331.50,157.42 336.00,161.83 339.00,166.00 C342.00,170.17 345.00,175.17 347.00,180.00 C349.00,184.83 350.25,190.83 351.00,195.00 C351.75,199.17 351.83,201.67 351.50,205.00 C351.17,208.33 350.42,212.17 349.00,215.00 C347.58,217.83 344.92,220.30 343.00,222.00 C341.08,223.70 338.42,224.67 337.50,225.20"/>
<path class="t" d="M305.00,159.00 L311.00,166.00 L315.00,164.30 L309.00,157.50"/>
<path class="i" d="M330.00,153.50 L336.00,151.30 L343.00,155.50 L343.50,160.00"/>
<path class="m" d="M332.00,156.50 L338.00,154.00 L340.00,158.00 L334.00,160.50"/>
<path class="i" d="M340.00,166.00 L349.00,160.00 L354.00,163.50 L362.00,187.50 L353.00,201.50"/>
<path class="i" d="M340.00,166.50 L351.00,163.00"/>
<path class="i" d="M343.00,169.00 L350.50,192.00 L362.00,187.50"/>
<path class="i" d="M350.50,192.00 L353.00,201.50"/>
<path class="i" d="M267.00,246.50 C266.00,246.63 263.83,247.07 261.00,247.30 C258.17,247.53 253.50,247.15 250.00,247.90 C246.50,248.65 243.17,249.78 240.00,251.80 C236.83,253.82 233.67,256.63 231.00,260.00 C228.33,263.37 225.95,267.83 224.00,272.00 C222.05,276.17 220.25,281.17 219.30,285.00 C218.35,288.83 218.02,292.17 218.30,295.00 C218.58,297.83 219.63,300.25 221.00,302.00 C222.37,303.75 225.58,304.92 226.50,305.50"/>
<path class="i" d="M264.00,248.30 C262.83,248.50 259.83,248.78 257.00,249.50 C254.17,250.22 250.17,251.27 247.00,252.60 C243.83,253.93 240.33,255.68 238.00,257.50 C235.67,259.32 233.83,262.50 233.00,263.50"/>
<path class="i" d="M219.50,289.00 L228.50,293.50"/>
<path class="i" d="M221.00,293.50 C221.50,294.25 222.83,296.58 224.00,298.00 C225.17,299.42 227.33,301.33 228.00,302.00"/>
<path class="i" d="M297.50,254.30 L294.00,262.00"/>
<path class="i" d="M232.50,264.00 C232.08,266.67 230.75,272.33 230.00,280.00 C229.25,287.67 228.50,302.00 228.00,310.00 C227.50,318.00 227.17,316.33 227.00,328.00 C226.83,339.67 226.92,366.33 227.00,380.00 C227.08,393.67 227.33,401.17 227.50,410.00 C227.67,418.83 227.67,427.00 228.00,433.00 C228.33,439.00 228.67,442.00 229.50,446.00 C230.33,450.00 232.42,455.17 233.00,457.00"/>
<path class="i" d="M233.00,457.00 L354.00,538.00"/>
<path class="i" d="M232.50,264.00 L269.00,246.00 L389.00,327.00 L353.00,345.00 L232.50,264.00"/>
<path class="i" d="M353.00,345.00 C352.58,348.17 351.00,354.83 350.50,364.00 C350.00,373.17 350.08,374.00 350.00,400.00 C349.92,426.00 349.33,497.00 350.00,520.00 C350.67,543.00 353.33,535.00 354.00,538.00"/>
<path class="i2" d="M389.00,327.00 C389.67,329.83 392.03,331.83 393.00,344.00 C393.97,356.17 394.47,384.00 394.80,400.00 C395.13,416.00 395.13,422.67 395.00,440.00 C394.87,457.33 395.00,490.50 394.00,504.00 C393.00,517.50 389.83,518.17 389.00,521.00"/>
<path class="i" d="M389.00,521.00 L354.00,538.00"/>
<path class="i" d="M353.00,345.00 C350.83,350.83 343.50,368.83 340.00,380.00 C336.50,391.17 333.67,401.33 332.00,412.00 C330.33,422.67 329.83,434.00 330.00,444.00 C330.17,454.00 331.00,462.00 333.00,472.00 C335.00,482.00 338.50,493.00 342.00,504.00 C345.50,515.00 352.00,532.33 354.00,538.00"/>
<path class="i" d="M385.68,410.81 C385.92,410.99 386.66,411.49 387.12,411.88 C387.57,412.28 388.00,412.71 388.39,413.18 C388.79,413.65 389.16,414.16 389.49,414.69 C389.83,415.23 390.13,415.80 390.40,416.41 C390.67,417.01 390.90,417.64 391.10,418.30 C391.31,418.96 391.47,419.65 391.60,420.35 C391.73,421.06 391.83,421.80 391.89,422.55 C391.95,423.30 391.97,424.07 391.96,424.86 C391.95,425.64 391.90,426.45 391.81,427.26 C391.73,428.07 391.60,428.90 391.45,429.73 C391.29,430.56 391.10,431.40 390.87,432.23 C390.65,433.07 390.39,433.92 390.09,434.76 C389.80,435.59 389.47,436.43 389.12,437.26 C388.76,438.09 388.37,438.92 387.95,439.73 C387.54,440.54 387.09,441.35 386.62,442.13 C386.14,442.92 385.64,443.69 385.12,444.44 C384.59,445.19 384.04,445.93 383.48,446.64 C382.91,447.35 382.31,448.04 381.71,448.69 C381.10,449.35 380.47,449.99 379.83,450.59 C379.19,451.19 378.53,451.76 377.86,452.30 C377.20,452.84 376.51,453.35 375.83,453.81 C375.14,454.28 374.45,454.72 373.75,455.11 C373.05,455.51 372.35,455.87 371.65,456.18 C370.95,456.50 370.24,456.78 369.54,457.01 C368.84,457.25 368.15,457.44 367.46,457.59 C366.77,457.74 366.09,457.85 365.42,457.91 C364.75,457.98 364.09,458.00 363.44,457.98 C362.80,457.96 362.16,457.89 361.55,457.79 C360.94,457.68 360.34,457.53 359.76,457.33 C359.19,457.14 358.63,456.91 358.10,456.63 C357.57,456.35 357.06,456.04 356.58,455.68 C356.10,455.32 355.65,454.93 355.22,454.50 C354.80,454.06 354.40,453.59 354.03,453.09 C353.67,452.59 353.33,452.04 353.03,451.47 C352.73,450.90 352.46,450.30 352.22,449.67 C351.99,449.04 351.79,448.38 351.62,447.69 C351.45,447.01 351.32,446.30 351.23,445.57 C351.13,444.84 351.07,444.08 351.05,443.31 C351.03,442.54 351.04,441.75 351.09,440.95 C351.14,440.15 351.22,439.34 351.34,438.51 C351.46,437.69 351.62,436.86 351.81,436.02 C352.00,435.19 352.23,434.34 352.49,433.50 C352.75,432.67 353.05,431.82 353.37,430.99 C353.70,430.15 354.05,429.32 354.44,428.50 C354.83,427.67 355.25,426.86 355.69,426.06 C356.14,425.26 356.62,424.47 357.11,423.70 C357.61,422.93 358.14,422.17 358.69,421.44 C359.23,420.71 359.81,420.00 360.39,419.32 C360.98,418.63 361.60,417.97 362.22,417.34 C362.85,416.71 363.49,416.10 364.14,415.53 C364.80,414.96 365.47,414.42 366.15,413.92 C366.82,413.41 367.51,412.94 368.21,412.51 C368.90,412.08 369.60,411.68 370.30,411.32 C371.00,410.97 371.71,410.65 372.41,410.37 C373.11,410.10 373.81,409.86 374.50,409.67 C375.20,409.48 375.89,409.32 376.57,409.22 C377.25,409.11 377.92,409.04 378.58,409.02 C379.24,409.00 379.89,409.02 380.52,409.09 C381.15,409.15 381.76,409.26 382.36,409.41 C382.95,409.56 383.53,409.75 384.08,409.99 C384.64,410.22 385.41,410.68 385.68,410.81"/>
<path class="i" d="M385.11,415.43 C385.29,415.57 385.88,415.96 386.24,416.27 C386.59,416.59 386.93,416.93 387.24,417.31 C387.54,417.68 387.83,418.08 388.09,418.52 C388.35,418.95 388.58,419.41 388.79,419.89 C388.99,420.37 389.17,420.88 389.32,421.41 C389.47,421.94 389.60,422.50 389.69,423.07 C389.78,423.64 389.85,424.24 389.89,424.84 C389.92,425.45 389.93,426.08 389.91,426.71 C389.89,427.35 389.84,428.00 389.76,428.66 C389.68,429.32 389.57,429.99 389.43,430.66 C389.30,431.34 389.13,432.02 388.94,432.70 C388.75,433.38 388.53,434.07 388.29,434.76 C388.04,435.44 387.77,436.12 387.47,436.80 C387.18,437.48 386.86,438.15 386.51,438.82 C386.17,439.48 385.80,440.14 385.41,440.78 C385.03,441.42 384.62,442.06 384.19,442.67 C383.76,443.29 383.31,443.89 382.85,444.47 C382.39,445.05 381.90,445.62 381.41,446.16 C380.92,446.70 380.41,447.23 379.89,447.72 C379.37,448.22 378.84,448.69 378.30,449.14 C377.76,449.58 377.21,450.00 376.66,450.39 C376.11,450.78 375.55,451.14 374.99,451.47 C374.43,451.80 373.86,452.10 373.30,452.37 C372.74,452.63 372.17,452.87 371.61,453.07 C371.05,453.27 370.49,453.44 369.94,453.57 C369.39,453.70 368.85,453.80 368.31,453.86 C367.78,453.92 367.25,453.95 366.74,453.94 C366.23,453.93 365.72,453.89 365.24,453.81 C364.75,453.73 364.28,453.62 363.82,453.47 C363.37,453.32 362.93,453.14 362.51,452.92 C362.09,452.71 361.69,452.46 361.31,452.17 C360.93,451.89 360.58,451.58 360.25,451.23 C359.91,450.89 359.60,450.51 359.32,450.11 C359.03,449.71 358.77,449.27 358.54,448.82 C358.31,448.36 358.10,447.87 357.92,447.37 C357.75,446.86 357.59,446.33 357.47,445.77 C357.35,445.22 357.26,444.65 357.19,444.06 C357.12,443.47 357.09,442.86 357.08,442.23 C357.07,441.61 357.09,440.97 357.14,440.32 C357.19,439.67 357.27,439.01 357.38,438.34 C357.49,437.68 357.63,437.00 357.79,436.32 C357.95,435.64 358.15,434.96 358.37,434.27 C358.58,433.59 358.83,432.90 359.10,432.22 C359.37,431.54 359.67,430.86 359.99,430.19 C360.31,429.52 360.65,428.85 361.02,428.20 C361.39,427.54 361.78,426.89 362.18,426.26 C362.59,425.63 363.02,425.01 363.47,424.42 C363.91,423.82 364.38,423.23 364.86,422.67 C365.34,422.11 365.83,421.56 366.34,421.04 C366.85,420.52 367.37,420.02 367.90,419.55 C368.43,419.08 368.97,418.63 369.51,418.22 C370.06,417.80 370.62,417.41 371.17,417.05 C371.73,416.69 372.29,416.35 372.86,416.06 C373.42,415.76 373.99,415.49 374.55,415.26 C375.11,415.02 375.67,414.82 376.23,414.66 C376.78,414.49 377.33,414.36 377.88,414.26 C378.42,414.16 378.96,414.10 379.48,414.07 C380.01,414.05 380.52,414.06 381.02,414.10 C381.52,414.14 382.01,414.22 382.48,414.34 C382.95,414.45 383.41,414.60 383.85,414.78 C384.29,414.96 384.90,415.32 385.11,415.43"/>
<path class="m" d="M371.30,423.50 L378.60,421.50 L378.60,443.00 L371.30,448.50 Z"/>
</g>
</svg>
</body></html>
